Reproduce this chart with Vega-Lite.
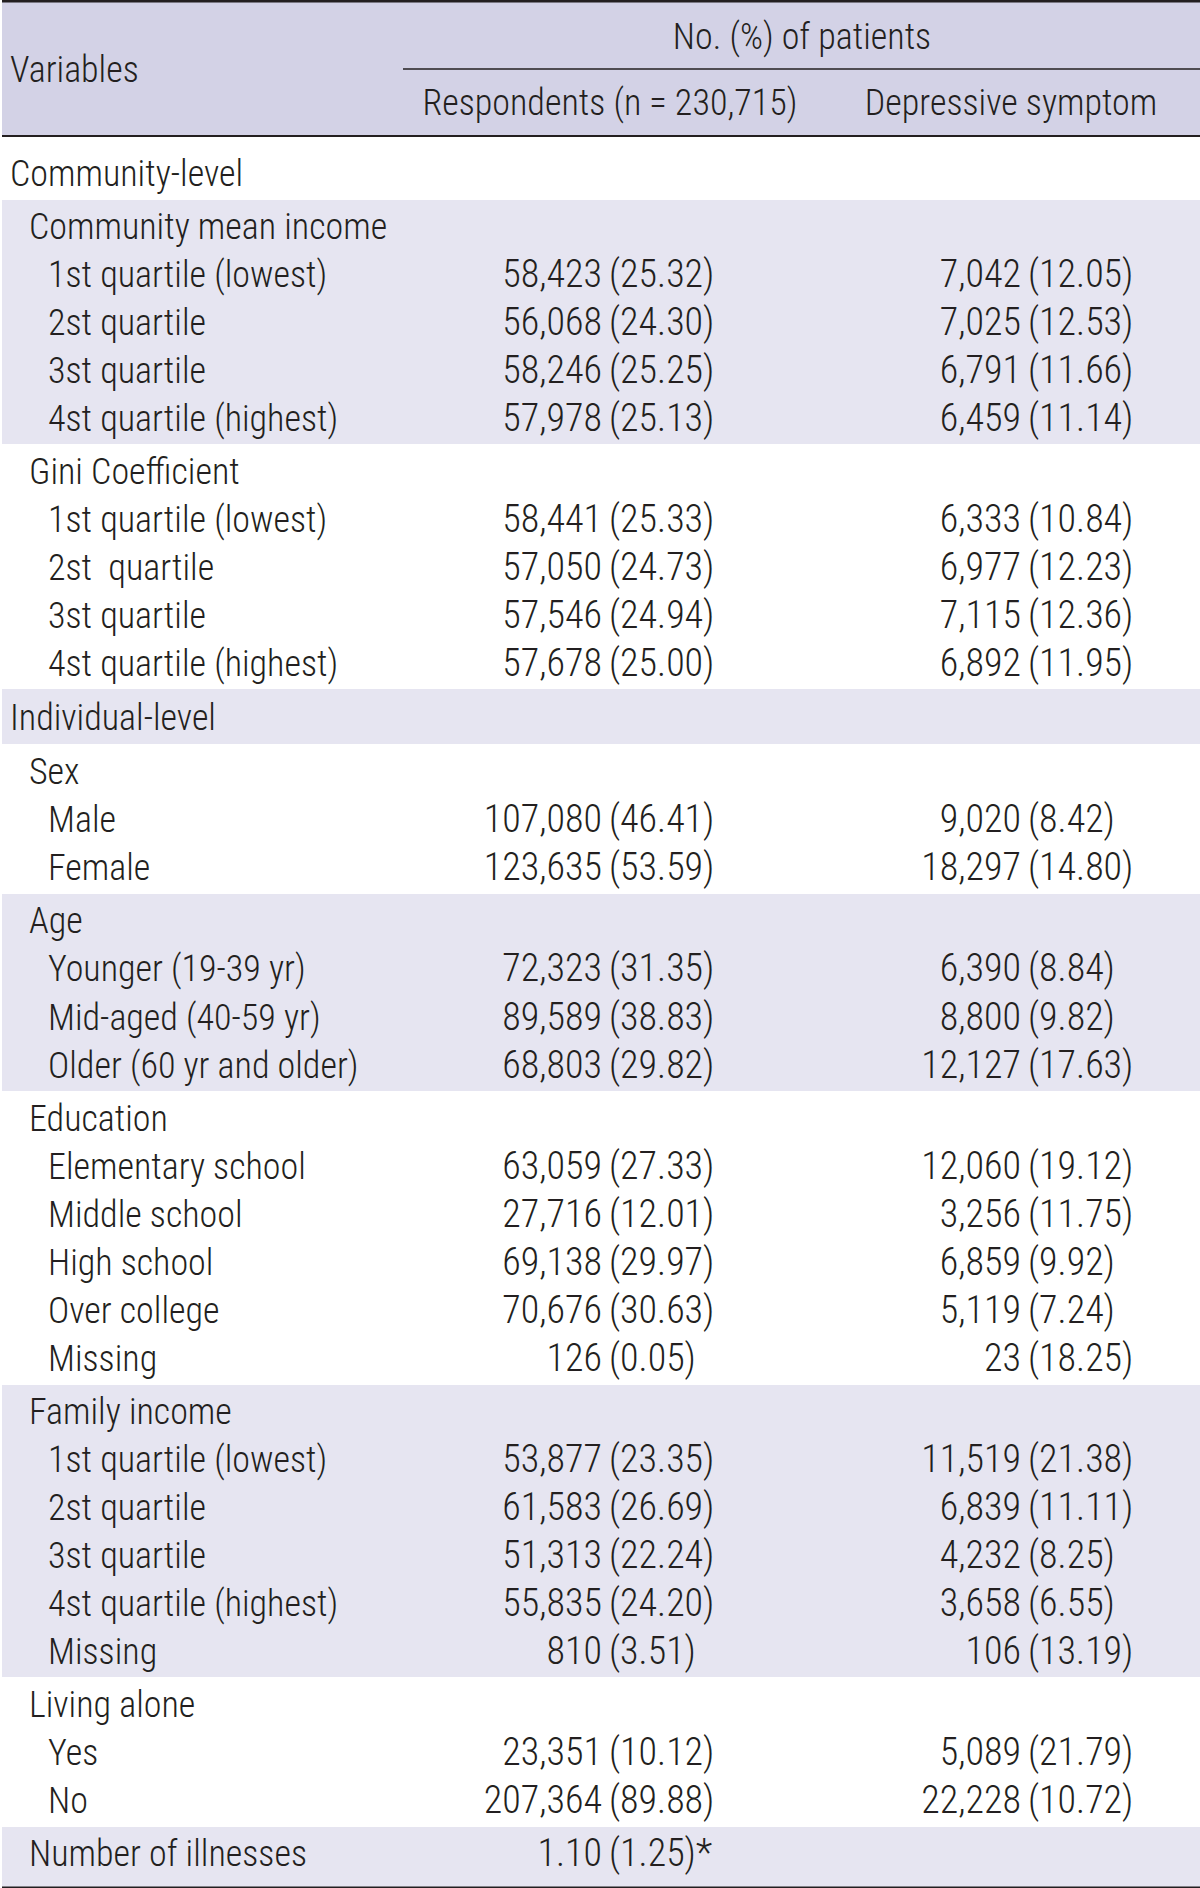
{
  "$schema": "https://vega.github.io/schema/vega-lite/v6.json",
  "padding": 0,
  "spacing": 0,
  "background": "white",
  "config": {
    "text": {"font": "Roboto Condensed, DejaVu Sans Condensed, Roboto, sans-serif", "fontSize": 36, "fontWeight": 300, "color": "#231f20", "dy": 2},
    "rule": {"color": "#231f20"},
    "view": {"stroke": null},
    "concat": {"spacing": 0}
  },
  "resolve": {"scale": {"x": "independent", "y": "independent"}},
  "datasets": {
    "rows": [
      {"g": "cl", "r": "cl0", "lvl": 0, "label": "Community-level", "n": "", "p": "", "dn": "", "dp": ""},
      {"g": "cmi", "r": "cmi0", "lvl": 1, "label": "Community mean income", "n": "", "p": "", "dn": "", "dp": ""},
      {"g": "cmi", "r": "cmi1", "lvl": 2, "label": "1st quartile (lowest)", "n": "58,423", "p": "(25.32)", "dn": "7,042", "dp": "(12.05)"},
      {"g": "cmi", "r": "cmi2", "lvl": 2, "label": "2st quartile", "n": "56,068", "p": "(24.30)", "dn": "7,025", "dp": "(12.53)"},
      {"g": "cmi", "r": "cmi3", "lvl": 2, "label": "3st quartile", "n": "58,246", "p": "(25.25)", "dn": "6,791", "dp": "(11.66)"},
      {"g": "cmi", "r": "cmi4", "lvl": 2, "label": "4st quartile (highest)", "n": "57,978", "p": "(25.13)", "dn": "6,459", "dp": "(11.14)"},
      {"g": "gini", "r": "gini0", "lvl": 1, "label": "Gini Coefficient", "n": "", "p": "", "dn": "", "dp": ""},
      {"g": "gini", "r": "gini1", "lvl": 2, "label": "1st quartile (lowest)", "n": "58,441", "p": "(25.33)", "dn": "6,333", "dp": "(10.84)"},
      {"g": "gini", "r": "gini2", "lvl": 2, "label": "2st\u00a0 quartile", "n": "57,050", "p": "(24.73)", "dn": "6,977", "dp": "(12.23)"},
      {"g": "gini", "r": "gini3", "lvl": 2, "label": "3st quartile", "n": "57,546", "p": "(24.94)", "dn": "7,115", "dp": "(12.36)"},
      {"g": "gini", "r": "gini4", "lvl": 2, "label": "4st quartile (highest)", "n": "57,678", "p": "(25.00)", "dn": "6,892", "dp": "(11.95)"},
      {"g": "il", "r": "il0", "lvl": 0, "label": "Individual-level", "n": "", "p": "", "dn": "", "dp": ""},
      {"g": "sex", "r": "sex0", "lvl": 1, "label": "Sex", "n": "", "p": "", "dn": "", "dp": ""},
      {"g": "sex", "r": "sex1", "lvl": 2, "label": "Male", "n": "107,080", "p": "(46.41)", "dn": "9,020", "dp": "(8.42)"},
      {"g": "sex", "r": "sex2", "lvl": 2, "label": "Female", "n": "123,635", "p": "(53.59)", "dn": "18,297", "dp": "(14.80)"},
      {"g": "age", "r": "age0", "lvl": 1, "label": "Age", "n": "", "p": "", "dn": "", "dp": ""},
      {"g": "age", "r": "age1", "lvl": 2, "label": "Younger (19-39 yr)", "n": "72,323", "p": "(31.35)", "dn": "6,390", "dp": "(8.84)"},
      {"g": "age", "r": "age2", "lvl": 2, "label": "Mid-aged (40-59 yr)", "n": "89,589", "p": "(38.83)", "dn": "8,800", "dp": "(9.82)"},
      {"g": "age", "r": "age3", "lvl": 2, "label": "Older (60 yr and older)", "n": "68,803", "p": "(29.82)", "dn": "12,127", "dp": "(17.63)"},
      {"g": "edu", "r": "edu0", "lvl": 1, "label": "Education", "n": "", "p": "", "dn": "", "dp": ""},
      {"g": "edu", "r": "edu1", "lvl": 2, "label": "Elementary school", "n": "63,059", "p": "(27.33)", "dn": "12,060", "dp": "(19.12)"},
      {"g": "edu", "r": "edu2", "lvl": 2, "label": "Middle school", "n": "27,716", "p": "(12.01)", "dn": "3,256", "dp": "(11.75)"},
      {"g": "edu", "r": "edu3", "lvl": 2, "label": "High school", "n": "69,138", "p": "(29.97)", "dn": "6,859", "dp": "(9.92)"},
      {"g": "edu", "r": "edu4", "lvl": 2, "label": "Over college", "n": "70,676", "p": "(30.63)", "dn": "5,119", "dp": "(7.24)"},
      {"g": "edu", "r": "edu5", "lvl": 2, "label": "Missing", "n": "126", "p": "(0.05)", "dn": "23", "dp": "(18.25)"},
      {"g": "fam", "r": "fam0", "lvl": 1, "label": "Family income", "n": "", "p": "", "dn": "", "dp": ""},
      {"g": "fam", "r": "fam1", "lvl": 2, "label": "1st quartile (lowest)", "n": "53,877", "p": "(23.35)", "dn": "11,519", "dp": "(21.38)"},
      {"g": "fam", "r": "fam2", "lvl": 2, "label": "2st quartile", "n": "61,583", "p": "(26.69)", "dn": "6,839", "dp": "(11.11)"},
      {"g": "fam", "r": "fam3", "lvl": 2, "label": "3st quartile", "n": "51,313", "p": "(22.24)", "dn": "4,232", "dp": "(8.25)"},
      {"g": "fam", "r": "fam4", "lvl": 2, "label": "4st quartile (highest)", "n": "55,835", "p": "(24.20)", "dn": "3,658", "dp": "(6.55)"},
      {"g": "fam", "r": "fam5", "lvl": 2, "label": "Missing", "n": "810", "p": "(3.51)", "dn": "106", "dp": "(13.19)"},
      {"g": "live", "r": "live0", "lvl": 1, "label": "Living alone", "n": "", "p": "", "dn": "", "dp": ""},
      {"g": "live", "r": "live1", "lvl": 2, "label": "Yes", "n": "23,351", "p": "(10.12)", "dn": "5,089", "dp": "(21.79)"},
      {"g": "live", "r": "live2", "lvl": 2, "label": "No", "n": "207,364", "p": "(89.88)", "dn": "22,228", "dp": "(10.72)"},
      {"g": "num", "r": "num0", "lvl": 1, "label": "Number of illnesses", "n": "1.10", "p": "(1.25)*", "dn": "", "dp": ""}
    ]
  },
  "vconcat": [
    {
      "width": 1200, "height": 136,
      "view": {"fill": "#d3d2e6", "stroke": null},
      "data": {"values": [{"k": 1}]},
      "layer": [
        {"mark": {"type": "rule", "strokeWidth": 2.5}, "encoding": {"x": {"value": 0}, "x2": {"value": 1200}, "y": {"value": 1.25}}},
        {"mark": {"type": "rule", "strokeWidth": 1.6}, "encoding": {"x": {"value": 401}, "x2": {"value": 1200}, "y": {"value": 69}}},
        {"mark": {"type": "rule", "strokeWidth": 1.8}, "encoding": {"x": {"value": 0}, "x2": {"value": 1200}, "y": {"value": 136}}},
        {"mark": {"type": "text", "align": "left", "baseline": "middle", "text": "Variables"}, "encoding": {"x": {"value": 8}, "y": {"value": 69}}},
        {"mark": {"type": "text", "align": "center", "baseline": "middle", "text": "No. (%) of patients"}, "encoding": {"x": {"value": 800}, "y": {"value": 36}}},
        {"mark": {"type": "text", "align": "center", "baseline": "middle", "text": "Respondents (n = 230,715)"}, "encoding": {"x": {"value": 608}, "y": {"value": 102}}},
        {"mark": {"type": "text", "align": "center", "baseline": "middle", "text": "Depressive symptom"}, "encoding": {"x": {"value": 1009}, "y": {"value": 102}}}
      ]
    },
    {
      "width": 1200, "height": 63,
      "view": {"stroke": null},
      "data": {"name": "rows"},
      "transform": [{"filter": "datum.g === 'cl'"}],
      "encoding": {"y": {"field": "r", "type": "ordinal", "axis": null, "sort": null, "scale": {"type": "band", "paddingInner": 0, "paddingOuter": 0.156, "align": 0.8}}},
      "layer": [
        {"mark": {"type": "text", "align": "left", "baseline": "middle"}, "encoding": {"x": {"field": "lvl", "type": "quantitative", "axis": null, "scale": {"domain": [0, 2], "range": [8, 46]}}, "text": {"field": "label"}}}
      ]
    },
    {
      "width": 1200, "height": 244,
      "view": {"fill": "#e6e5f1", "stroke": null},
      "data": {"name": "rows"},
      "transform": [{"filter": "datum.g === 'cmi'"}],
      "encoding": {"y": {"field": "r", "type": "ordinal", "axis": null, "sort": null, "scale": {"type": "band", "paddingInner": 0, "paddingOuter": 0.0417}}},
      "layer": [
        {"mark": {"type": "text", "align": "left", "baseline": "middle"}, "encoding": {"x": {"field": "lvl", "type": "quantitative", "axis": null, "scale": {"domain": [0, 2], "range": [8, 46]}}, "text": {"field": "label"}}},
        {"mark": {"type": "text", "align": "right", "baseline": "middle", "fontSize": 38}, "encoding": {"x": {"value": 600}, "text": {"field": "n"}}},
        {"mark": {"type": "text", "align": "left", "baseline": "middle", "fontSize": 38}, "encoding": {"x": {"value": 607}, "text": {"field": "p"}}},
        {"mark": {"type": "text", "align": "right", "baseline": "middle", "fontSize": 38}, "encoding": {"x": {"value": 1019}, "text": {"field": "dn"}}},
        {"mark": {"type": "text", "align": "left", "baseline": "middle", "fontSize": 38}, "encoding": {"x": {"value": 1026}, "text": {"field": "dp"}}}
      ]
    },
    {
      "width": 1200, "height": 245,
      "view": {"stroke": null},
      "data": {"name": "rows"},
      "transform": [{"filter": "datum.g === 'gini'"}],
      "encoding": {"y": {"field": "r", "type": "ordinal", "axis": null, "sort": null, "scale": {"type": "band", "paddingInner": 0, "paddingOuter": 0.052, "align": 0.6}}},
      "layer": [
        {"mark": {"type": "text", "align": "left", "baseline": "middle"}, "encoding": {"x": {"field": "lvl", "type": "quantitative", "axis": null, "scale": {"domain": [0, 2], "range": [8, 46]}}, "text": {"field": "label"}}},
        {"mark": {"type": "text", "align": "right", "baseline": "middle", "fontSize": 38}, "encoding": {"x": {"value": 600}, "text": {"field": "n"}}},
        {"mark": {"type": "text", "align": "left", "baseline": "middle", "fontSize": 38}, "encoding": {"x": {"value": 607}, "text": {"field": "p"}}},
        {"mark": {"type": "text", "align": "right", "baseline": "middle", "fontSize": 38}, "encoding": {"x": {"value": 1019}, "text": {"field": "dn"}}},
        {"mark": {"type": "text", "align": "left", "baseline": "middle", "fontSize": 38}, "encoding": {"x": {"value": 1026}, "text": {"field": "dp"}}}
      ]
    },
    {
      "width": 1200, "height": 55,
      "view": {"fill": "#e6e5f1", "stroke": null},
      "data": {"name": "rows"},
      "transform": [{"filter": "datum.g === 'il'"}],
      "encoding": {"y": {"field": "r", "type": "ordinal", "axis": null, "sort": null, "scale": {"type": "band", "paddingInner": 0, "paddingOuter": 0.073}}},
      "layer": [
        {"mark": {"type": "text", "align": "left", "baseline": "middle"}, "encoding": {"x": {"field": "lvl", "type": "quantitative", "axis": null, "scale": {"domain": [0, 2], "range": [8, 46]}}, "text": {"field": "label"}}}
      ]
    },
    {
      "width": 1200, "height": 150,
      "view": {"stroke": null},
      "data": {"name": "rows"},
      "transform": [{"filter": "datum.g === 'sex'"}],
      "encoding": {"y": {"field": "r", "type": "ordinal", "axis": null, "sort": null, "scale": {"type": "band", "paddingInner": 0, "paddingOuter": 0.0625}}},
      "layer": [
        {"mark": {"type": "text", "align": "left", "baseline": "middle"}, "encoding": {"x": {"field": "lvl", "type": "quantitative", "axis": null, "scale": {"domain": [0, 2], "range": [8, 46]}}, "text": {"field": "label"}}},
        {"mark": {"type": "text", "align": "right", "baseline": "middle", "fontSize": 38}, "encoding": {"x": {"value": 600}, "text": {"field": "n"}}},
        {"mark": {"type": "text", "align": "left", "baseline": "middle", "fontSize": 38}, "encoding": {"x": {"value": 607}, "text": {"field": "p"}}},
        {"mark": {"type": "text", "align": "right", "baseline": "middle", "fontSize": 38}, "encoding": {"x": {"value": 1019}, "text": {"field": "dn"}}},
        {"mark": {"type": "text", "align": "left", "baseline": "middle", "fontSize": 38}, "encoding": {"x": {"value": 1026}, "text": {"field": "dp"}}}
      ]
    },
    {
      "width": 1200, "height": 197,
      "view": {"fill": "#e6e5f1", "stroke": null},
      "data": {"name": "rows"},
      "transform": [{"filter": "datum.g === 'age'"}],
      "encoding": {"y": {"field": "r", "type": "ordinal", "axis": null, "sort": null, "scale": {"type": "band", "paddingInner": 0, "paddingOuter": 0.052}}},
      "layer": [
        {"mark": {"type": "text", "align": "left", "baseline": "middle"}, "encoding": {"x": {"field": "lvl", "type": "quantitative", "axis": null, "scale": {"domain": [0, 2], "range": [8, 46]}}, "text": {"field": "label"}}},
        {"mark": {"type": "text", "align": "right", "baseline": "middle", "fontSize": 38}, "encoding": {"x": {"value": 600}, "text": {"field": "n"}}},
        {"mark": {"type": "text", "align": "left", "baseline": "middle", "fontSize": 38}, "encoding": {"x": {"value": 607}, "text": {"field": "p"}}},
        {"mark": {"type": "text", "align": "right", "baseline": "middle", "fontSize": 38}, "encoding": {"x": {"value": 1019}, "text": {"field": "dn"}}},
        {"mark": {"type": "text", "align": "left", "baseline": "middle", "fontSize": 38}, "encoding": {"x": {"value": 1026}, "text": {"field": "dp"}}}
      ]
    },
    {
      "width": 1200, "height": 294,
      "view": {"stroke": null},
      "data": {"name": "rows"},
      "transform": [{"filter": "datum.g === 'edu'"}],
      "encoding": {"y": {"field": "r", "type": "ordinal", "axis": null, "sort": null, "scale": {"type": "band", "paddingInner": 0, "paddingOuter": 0.0625}}},
      "layer": [
        {"mark": {"type": "text", "align": "left", "baseline": "middle"}, "encoding": {"x": {"field": "lvl", "type": "quantitative", "axis": null, "scale": {"domain": [0, 2], "range": [8, 46]}}, "text": {"field": "label"}}},
        {"mark": {"type": "text", "align": "right", "baseline": "middle", "fontSize": 38}, "encoding": {"x": {"value": 600}, "text": {"field": "n"}}},
        {"mark": {"type": "text", "align": "left", "baseline": "middle", "fontSize": 38}, "encoding": {"x": {"value": 607}, "text": {"field": "p"}}},
        {"mark": {"type": "text", "align": "right", "baseline": "middle", "fontSize": 38}, "encoding": {"x": {"value": 1019}, "text": {"field": "dn"}}},
        {"mark": {"type": "text", "align": "left", "baseline": "middle", "fontSize": 38}, "encoding": {"x": {"value": 1026}, "text": {"field": "dp"}}}
      ]
    },
    {
      "width": 1200, "height": 292,
      "view": {"fill": "#e6e5f1", "stroke": null},
      "data": {"name": "rows"},
      "transform": [{"filter": "datum.g === 'fam'"}],
      "encoding": {"y": {"field": "r", "type": "ordinal", "axis": null, "sort": null, "scale": {"type": "band", "paddingInner": 0, "paddingOuter": 0.0417}}},
      "layer": [
        {"mark": {"type": "text", "align": "left", "baseline": "middle"}, "encoding": {"x": {"field": "lvl", "type": "quantitative", "axis": null, "scale": {"domain": [0, 2], "range": [8, 46]}}, "text": {"field": "label"}}},
        {"mark": {"type": "text", "align": "right", "baseline": "middle", "fontSize": 38}, "encoding": {"x": {"value": 600}, "text": {"field": "n"}}},
        {"mark": {"type": "text", "align": "left", "baseline": "middle", "fontSize": 38}, "encoding": {"x": {"value": 607}, "text": {"field": "p"}}},
        {"mark": {"type": "text", "align": "right", "baseline": "middle", "fontSize": 38}, "encoding": {"x": {"value": 1019}, "text": {"field": "dn"}}},
        {"mark": {"type": "text", "align": "left", "baseline": "middle", "fontSize": 38}, "encoding": {"x": {"value": 1026}, "text": {"field": "dp"}}}
      ]
    },
    {
      "width": 1200, "height": 150,
      "view": {"stroke": null},
      "data": {"name": "rows"},
      "transform": [{"filter": "datum.g === 'live'"}],
      "encoding": {"y": {"field": "r", "type": "ordinal", "axis": null, "sort": null, "scale": {"type": "band", "paddingInner": 0, "paddingOuter": 0.0625}}},
      "layer": [
        {"mark": {"type": "text", "align": "left", "baseline": "middle"}, "encoding": {"x": {"field": "lvl", "type": "quantitative", "axis": null, "scale": {"domain": [0, 2], "range": [8, 46]}}, "text": {"field": "label"}}},
        {"mark": {"type": "text", "align": "right", "baseline": "middle", "fontSize": 38}, "encoding": {"x": {"value": 600}, "text": {"field": "n"}}},
        {"mark": {"type": "text", "align": "left", "baseline": "middle", "fontSize": 38}, "encoding": {"x": {"value": 607}, "text": {"field": "p"}}},
        {"mark": {"type": "text", "align": "right", "baseline": "middle", "fontSize": 38}, "encoding": {"x": {"value": 1019}, "text": {"field": "dn"}}},
        {"mark": {"type": "text", "align": "left", "baseline": "middle", "fontSize": 38}, "encoding": {"x": {"value": 1026}, "text": {"field": "dp"}}}
      ]
    },
    {
      "width": 1200, "height": 62,
      "view": {"fill": "#e6e5f1", "stroke": null},
      "data": {"name": "rows"},
      "transform": [{"filter": "datum.g === 'num'"}],
      "encoding": {"y": {"field": "r", "type": "ordinal", "axis": null, "sort": null, "scale": {"type": "band", "paddingInner": 0, "paddingOuter": 0.146, "align": 0.15}}},
      "layer": [
        {"mark": {"type": "text", "align": "left", "baseline": "middle"}, "encoding": {"x": {"field": "lvl", "type": "quantitative", "axis": null, "scale": {"domain": [0, 2], "range": [8, 46]}}, "text": {"field": "label"}}},
        {"mark": {"type": "text", "align": "right", "baseline": "middle", "fontSize": 38}, "encoding": {"x": {"value": 600}, "text": {"field": "n"}}},
        {"mark": {"type": "text", "align": "left", "baseline": "middle", "fontSize": 38}, "encoding": {"x": {"value": 607}, "text": {"field": "p"}}},
        {"mark": {"type": "rule", "strokeWidth": 2.5}, "encoding": {"x": {"value": 0}, "x2": {"value": 1200}, "y": {"value": 60.75}}}
      ]
    }
  ]
}
